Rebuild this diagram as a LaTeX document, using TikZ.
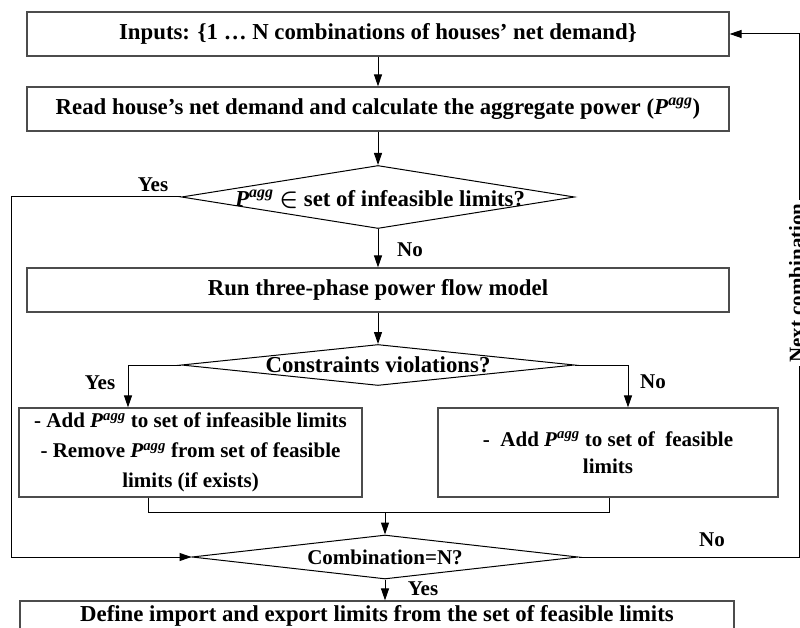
\documentclass[tikz,border=0pt]{standalone}
\usepackage{amsmath,amssymb}
\usepackage{xcolor}
\usepackage{fontspec}
\setmainfont{Liberation Serif}
\usepackage{tikz}
\usetikzlibrary{shapes.geometric,arrows.meta,positioning}

\newcommand{\bigfnt}{\bfseries\fontsize{22.8bp}{27bp}\selectfont}
\newcommand{\smallfnt}{\bfseries\fontsize{21bp}{30bp}\selectfont}
\newcommand{\Pagg}{\textit{P}\textsuperscript{\textit{agg}}}

\tikzset{
  flowbox/.style={draw=black!70, line width=1.2bp, rectangle, inner sep=0pt,
    minimum width=702bp, minimum height=44bp, align=center, font=\bigfnt},
  decision/.style={draw=black, line width=1bp, diamond, inner sep=0pt,
    minimum width=393bp, minimum height=63bp},
  flowlbl/.style={font=\smallfnt, inner sep=1bp},
  flowarrow/.style={-{Triangle[length=12bp,width=8bp]}, line width=1bp},
  flowline/.style={line width=1bp}
}

\begin{document}
\begin{tikzpicture}[x=1bp,y=-1bp]
  \useasboundingbox (0,0) rectangle (800,628);

  % Boxes
  \node[flowbox] (inputs) at (378,34) {Inputs: \{1 \textellipsis{} N combinations of houses’ net demand\}};
  \node[flowbox] (readP) at (378,109) {Read house’s net demand and calculate the aggregate power (\Pagg)};
  \node[flowbox] (pflow) at (378,290) {Run three-phase power flow model};
  \node[flowbox, minimum width=343bp, minimum height=89bp, font=\smallfnt] (infset) at (190.5,452.5)
    {- Add \Pagg{} to set of infeasible limits\\- Remove \Pagg{} from set of feasible\\limits (if exists)};
  \node[flowbox, minimum width=340bp, minimum height=89bp, font=\smallfnt] (feaset) at (608,452.5)
    {-\ \ Add \Pagg{} to set of\ \ feasible\\[-3bp]limits};
  \node[flowbox, minimum width=714bp, minimum height=30bp] (limits) at (377,616)
    {Define import and export limits from the set of feasible limits};

  % Decisions
  \node[decision] (infeas) at (378,197) {};
  \node[font=\bigfnt, inner sep=0pt] (infeastxt) at (380,199) {\Pagg{} $\boldsymbol{\in}$ set of infeasible limits?};
  \node[decision, minimum height=41bp] (viol) at (378,365) {};
  \node[font=\bigfnt, inner sep=0pt] (violtxt) at (viol) {Constraints violations?};
  \node[decision, minimum width=386bp, minimum height=44bp] (lastN) at (385,557) {};
  \node[font=\smallfnt, inner sep=0pt] (lastNtxt) at (lastN) {Combination=N?};

  % Rails
  \coordinate (leftrail) at (11,0);
  \coordinate (rightrail) at (799,0);
  \coordinate (yesdrop) at (128,0);
  \coordinate (nodrop) at (628,0);
  \coordinate (joinL) at (148,512);
  \coordinate (joinR) at (609,512);

  % Connectors
  \draw[flowarrow] (inputs) -- (readP);
  \draw[flowarrow] (readP) -- (infeas);
  \draw[flowarrow] (infeas) -- (pflow);
  \draw[flowarrow] (pflow) -- (viol);
  \draw[flowarrow] (viol.west) -| (yesdrop |- infset.north);
  \draw[flowarrow] (viol.east) -| (nodrop |- feaset.north);
  \draw[flowline] (joinL |- infset.south) -- (joinL) -- (joinR) -- (joinR |- feaset.south);
  \draw[flowarrow] (lastN.north |- joinL) -- (lastN.north);
  \draw[flowarrow] (infeas.west) -| (leftrail |- lastN.west) -- (lastN.west);
  \draw[flowarrow] (lastN.east) -| (rightrail |- inputs.east) -- (inputs.east);
  \draw[flowarrow] (lastN.south) -- (lastN.south |- limits.north);

  % Labels
  \node[flowlbl] (yes1) at (153,185) {Yes};
  \node[flowlbl] (no1) at (410,250) {No};
  \node[flowlbl] (yes2) at (100,383) {Yes};
  \node[flowlbl] (no2) at (653,382) {No};
  \node[flowlbl] (no3) at (712,540) {No};
  \node[flowlbl] (yes3) at (423,589) {Yes};
  \node[flowlbl, rotate=90, fill=white, inner sep=3bp] (nextc) at (796.5,283) {Next combination};
\end{tikzpicture}
\end{document}
